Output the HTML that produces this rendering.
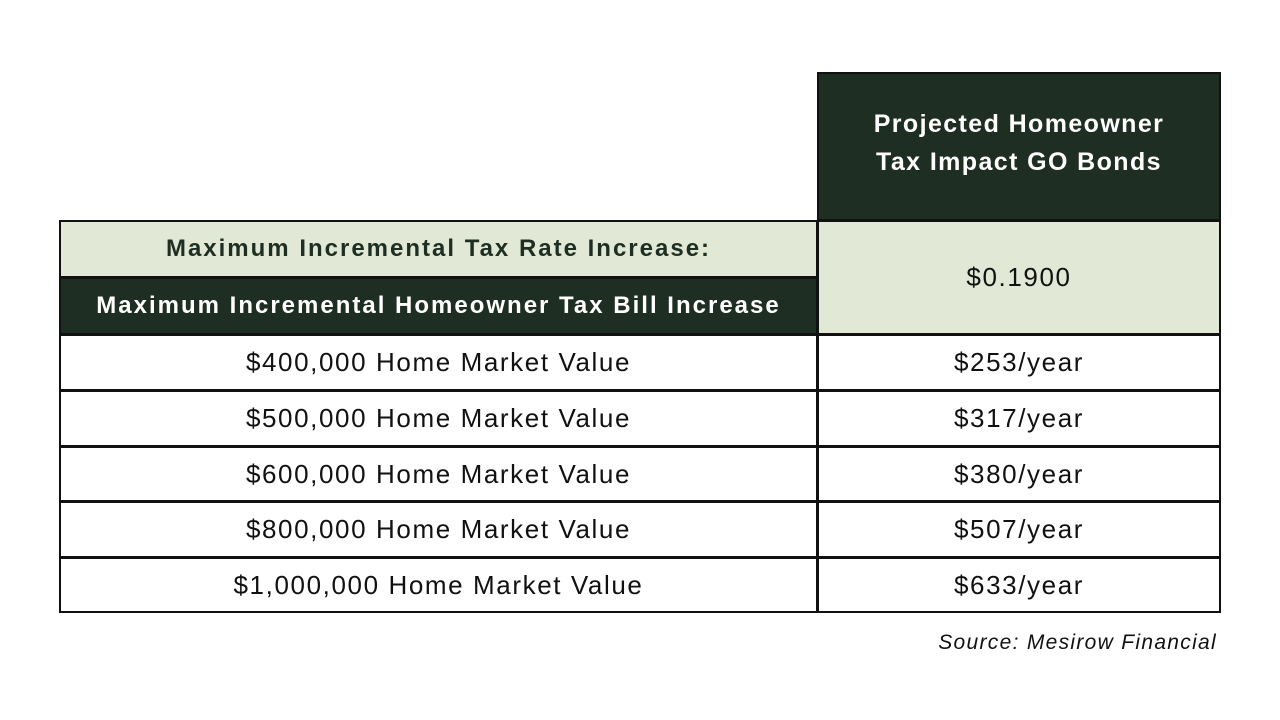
<!DOCTYPE html>
<html><head><meta charset="utf-8"><style>
body{margin:0;width:1280px;height:720px;background:#fff;position:relative;font-family:"Liberation Sans",sans-serif;overflow:hidden}
.c{position:absolute;box-sizing:border-box;border:2px solid #111;display:flex;align-items:center;justify-content:center;text-align:center;font-size:26px;color:#111;letter-spacing:1.6px;white-space:nowrap}
.d{background:#1f2e23;color:#fff;font-weight:bold}
.l{background:#e1e8d5}
.b{font-weight:bold;font-size:24px;letter-spacing:2px}
</style></head><body>
<div class="c d" style="left:817px;top:72px;width:404px;height:149px;font-size:25px;line-height:38px;letter-spacing:1.4px;padding-bottom:8px">Projected Homeowner<br>Tax Impact GO Bonds</div>
<div class="c l b" style="left:59px;top:220px;width:759px;height:58px;color:#1f2e23">Maximum Incremental Tax Rate Increase:</div>
<div class="c d b" style="left:59px;top:277px;width:759px;height:58px">Maximum Incremental Homeowner Tax Bill Increase</div>
<div class="c l" style="left:817px;top:220px;width:404px;height:115px">$0.1900</div>
<div class="c" style="left:59px;top:334px;width:759px;height:57px">$400,000 Home Market Value</div>
<div class="c" style="left:817px;top:334px;width:404px;height:57px">$253/year</div>
<div class="c" style="left:59px;top:390px;width:759px;height:57px">$500,000 Home Market Value</div>
<div class="c" style="left:817px;top:390px;width:404px;height:57px">$317/year</div>
<div class="c" style="left:59px;top:446px;width:759px;height:56px">$600,000 Home Market Value</div>
<div class="c" style="left:817px;top:446px;width:404px;height:56px">$380/year</div>
<div class="c" style="left:59px;top:501px;width:759px;height:57px">$800,000 Home Market Value</div>
<div class="c" style="left:817px;top:501px;width:404px;height:57px">$507/year</div>
<div class="c" style="left:59px;top:557px;width:759px;height:56px">$1,000,000 Home Market Value</div>
<div class="c" style="left:817px;top:557px;width:404px;height:56px">$633/year</div>
<div style="position:absolute;right:63px;top:631px;font-size:21px;font-style:italic;color:#111;letter-spacing:1.3px">Source: Mesirow Financial</div>
</body></html>
